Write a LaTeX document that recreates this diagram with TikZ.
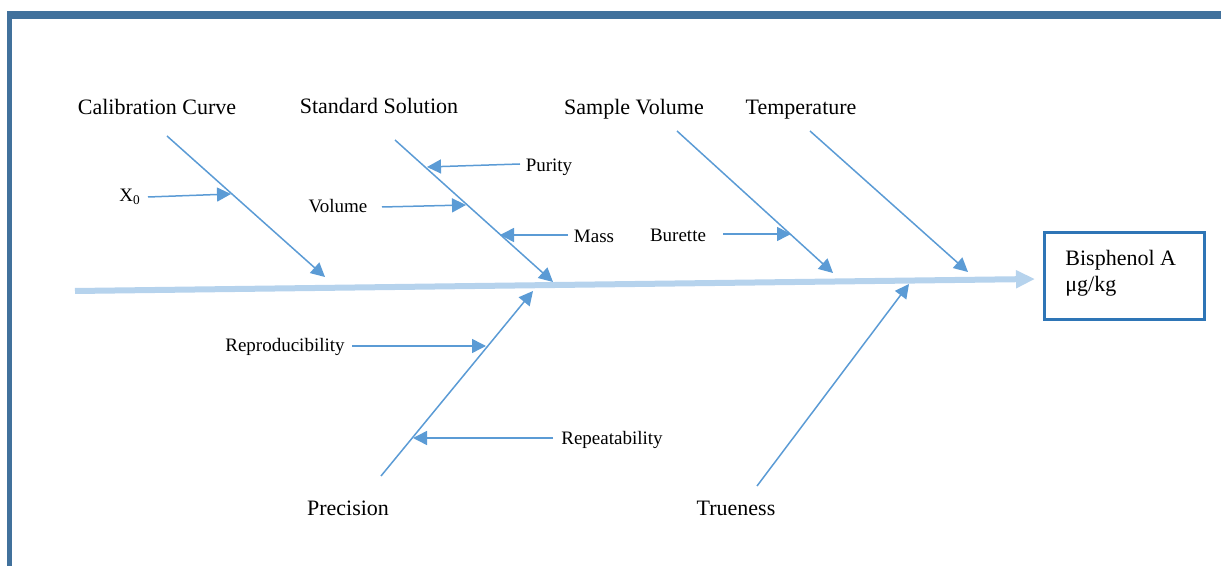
\documentclass[tikz,border=0pt]{standalone}
\usepackage{fontspec}
\setmainfont{Liberation Serif}
\usetikzlibrary{arrows.meta,positioning}
\definecolor{framecol}{RGB}{65,113,156}
\definecolor{bonecol}{RGB}{91,155,213}
\definecolor{spinecol}{RGB}{182,211,237}
\definecolor{boxcol}{RGB}{46,117,182}
\tikzset{
  bone/.style={bonecol, line width=0.75pt, -{Triangle[length=7pt,width=7pt]}},
  spine/.style={spinecol, line width=3pt, -{Triangle[length=9.5pt,width=8.5pt]}},
  cause/.style={font=\fontsize{11}{13}\selectfont, inner sep=1pt, anchor=base},
  sub/.style={font=\fontsize{9.5}{11}\selectfont, inner sep=1pt, anchor=base},
  resultbox/.style={draw=boxcol, line width=1.5pt, minimum width=80pt, minimum height=43.5pt},
}

\begin{document}
\begin{tikzpicture}[x=0.5pt,y=-0.5pt]
\useasboundingbox (0,0) rectangle (1221,566);

% Draw frame
\fill[framecol] (7,11) rectangle (1221,19);
\fill[framecol] (7,11) rectangle (12,566);

% Draw spine and result
\coordinate (tail) at (75,291);
\coordinate (head) at (1035,279);
\draw[spine] (tail) -- (head);
\node[resultbox] (bpa) at (1124,276.5) {};
\node[font=\fontsize{11}{13}\selectfont, align=left, anchor=west, inner sep=0pt]
    (bpatext) at (1065,273) {Bisphenol A\\μg/kg};

% Draw causes
\node[cause] (calib) at (157,115) {Calibration Curve};
\node[cause] (stdsol) at (379,114) {Standard Solution};
\node[cause] (sampvol) at (634,115) {Sample Volume};
\node[cause] (temp) at (801,115) {Temperature};
\node[cause] (prec) at (348,516) {Precision};
\node[cause] (true) at (736,516) {Trueness};

\coordinate (calibS) at (167,136);  \coordinate (calibE) at (325,277);
\coordinate (stdsolS) at (395,140); \coordinate (stdsolE) at (553,282);
\coordinate (sampvolS) at (677,131); \coordinate (sampvolE) at (833,273);
\coordinate (tempS) at (810,131);   \coordinate (tempE) at (968,272);
\coordinate (precS) at (381,476);   \coordinate (precE) at (533,291);
\coordinate (trueS) at (757,486);   \coordinate (trueE) at (909,284);

\foreach \b in {calib,stdsol,sampvol,temp,prec,true}
    \draw[bone] (\b S) -- (\b E);

% Draw sub-causes
\node[sub] (xzero) at (130,202) {X\textsubscript{0}};
\node[sub] (purity) at (549,172) {Purity};
\node[sub] (volume) at (338,213) {Volume};
\node[sub] (mass) at (594,243) {Mass};
\node[sub] (burette) at (678,242) {Burette};
\node[sub] (repro) at (285,352) {Reproducibility};
\node[sub] (repeat) at (612,445) {Repeatability};

\coordinate (xzeroA) at (148,197);    \coordinate (xzeroP) at (231,194);
\coordinate (purityA) at (520,164);   \coordinate (purityP) at (427,167);
\coordinate (volumeA) at (382,207);   \coordinate (volumeP) at (466,205);
\coordinate (massA) at (568,235);     \coordinate (massP) at (500,235);
\coordinate (buretteA) at (723,234);  \coordinate (buretteP) at (791,234);
\coordinate (reproA) at (352,346);    \coordinate (reproP) at (486,346);
\coordinate (repeatA) at (553,438);   \coordinate (repeatP) at (413,438);

\foreach \s in {xzero,purity,volume,mass,burette,repro,repeat}
    \draw[bone] (\s A) -- (\s P);
\end{tikzpicture}
\end{document}
